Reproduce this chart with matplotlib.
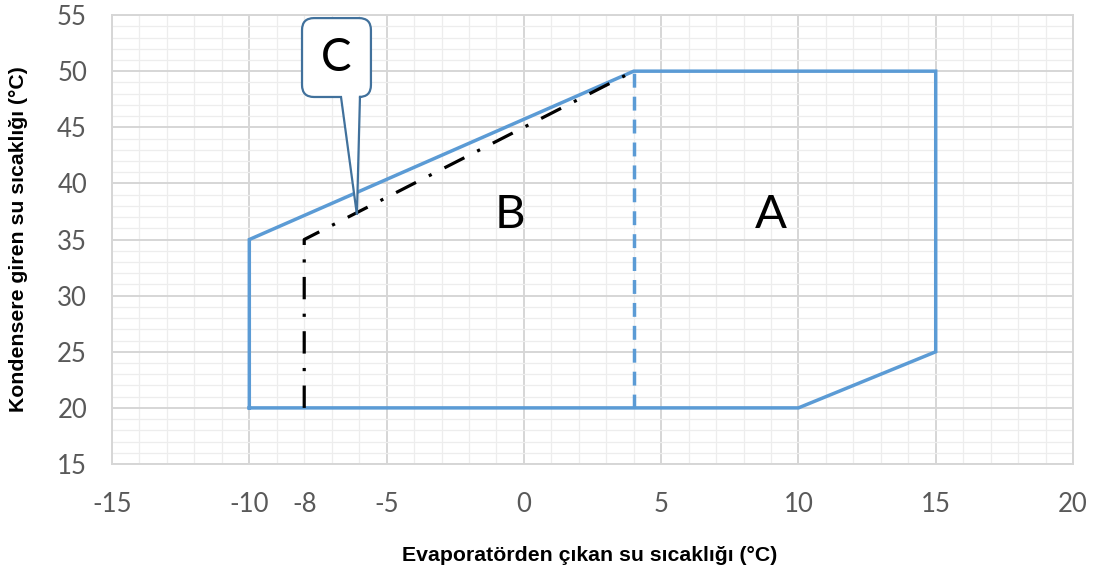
import matplotlib
matplotlib.use("Agg")
import matplotlib.pyplot as plt
from matplotlib.path import Path
from matplotlib.patches import PathPatch
import numpy as np

plt.rcParams["axes.unicode_minus"] = False

# ---- data ----
envelope_x = [-10, -10, 4, 15, 15, 10, -10]
envelope_y = [20, 35, 50, 50, 25, 20, 20]
divider_x = [4, 4]
divider_y = [20, 50]
limit_c_x = [-8, -8, 4]
limit_c_y = [20, 35, 50]
x_ticks = [-15, -10, -8, -5, 0, 5, 10, 15, 20]
y_ticks = [15, 20, 25, 30, 35, 40, 45, 50, 55]
region_labels = ["A", "B"]
region_x = [9.0, -0.5]
region_y = [37.2, 37.2]
callout_label = "C"
callout_tip = (-6.08, 37.2)

BLUE = "#5B9BD5"
TICK_FONT = ["Lato", "DejaVu Sans"]
LABEL_FONT = ["Liberation Sans", "DejaVu Sans"]

fig = plt.figure(figsize=(10.94, 5.79), dpi=100)
ax = fig.add_axes([0.1024, 0.1986, 0.8784, 0.7754])
ax.set_xlim(-15, 20)
ax.set_ylim(15, 55)

# grid
ax.set_xticks(x_ticks)
ax.set_yticks(y_ticks)
ax.set_xticks(np.arange(-15, 21, 1), minor=True)
ax.set_yticks(np.arange(15, 56, 1), minor=True)
ax.grid(which="major", color="#D6D6D6", linewidth=1.4, zorder=0)
ax.grid(which="minor", color="#EDEDED", linewidth=0.9, zorder=0)
for t, gl in zip(x_ticks, ax.xaxis.get_gridlines()):
    if t % 5 != 0:
        gl.set_color("#EDEDED")
        gl.set_linewidth(0.9)
ax.set_axisbelow(True)
ax.tick_params(which="both", length=0)
ax.tick_params(axis="x", pad=20, labelsize=18.5, labelcolor="#595959")
ax.tick_params(axis="y", pad=18, labelsize=18.5, labelcolor="#595959")
for lab in ax.get_xticklabels() + ax.get_yticklabels():
    lab.set_family(TICK_FONT)
for s in ax.spines.values():
    s.set_color("#D6D6D6")
    s.set_linewidth(1.4)

# lines
ax.plot(envelope_x, envelope_y, color=BLUE, linewidth=2.5,
        solid_joinstyle="miter", zorder=3)
ax.plot(divider_x, divider_y, color=BLUE, linewidth=2.5,
        dashes=(4, 2.6), zorder=3)
ax.plot(limit_c_x, limit_c_y, color="black", linewidth=2.3,
        dashes=(7, 4.5, 1, 4.5), zorder=4)

for lab, x, y in zip(region_labels, region_x, region_y):
    ax.text(x, y, lab, fontsize=34, family=TICK_FONT, ha="center",
            va="center", color="black", zorder=5)

# callout C (rounded box with pointer)
sx = 27.46  # px per x unit
sy = 11.23  # px per y unit
bx0, bx1 = -8.08, -5.57
by0, by1 = 47.7, 54.73
px0, px1 = -6.66, -5.97
rx, ry = 12 / sx, 12 / sy
tx, ty = callout_tip
verts = [
    (bx0 + rx, by0), (px0, by0), (tx, ty), (px1, by0), (bx1 - rx, by0),
    (bx1, by0), (bx1, by0 + ry),
    (bx1, by1 - ry),
    (bx1, by1), (bx1 - rx, by1),
    (bx0 + rx, by1),
    (bx0, by1), (bx0, by1 - ry),
    (bx0, by0 + ry),
    (bx0, by0), (bx0 + rx, by0),
    (bx0 + rx, by0),
]
codes = [Path.MOVETO, Path.LINETO, Path.LINETO, Path.LINETO, Path.LINETO,
         Path.CURVE3, Path.CURVE3,
         Path.LINETO,
         Path.CURVE3, Path.CURVE3,
         Path.LINETO,
         Path.CURVE3, Path.CURVE3,
         Path.LINETO,
         Path.CURVE3, Path.CURVE3,
         Path.CLOSEPOLY]
patch = PathPatch(Path(verts, codes), facecolor="white", edgecolor="#41719C",
                  linewidth=1.6, zorder=6, clip_on=False)
ax.add_patch(patch)
ax.text((bx0 + bx1) / 2, (by0 + by1) / 2, callout_label, fontsize=33,
        family=TICK_FONT, ha="center", va="center", color="black", zorder=7)

fig.text(0.539, 0.041, "Evaporatörden çıkan su sıcaklığı (°C)",
         fontsize=15.3, fontweight="bold", family=LABEL_FONT,
         ha="center", va="center")
fig.text(0.0165, 0.587, "Kondensere giren su sıcaklığı (°C)",
         fontsize=15.3, fontweight="bold", family=LABEL_FONT,
         ha="center", va="center", rotation=90)

fig.savefig("out.png", dpi=100, facecolor="white")
